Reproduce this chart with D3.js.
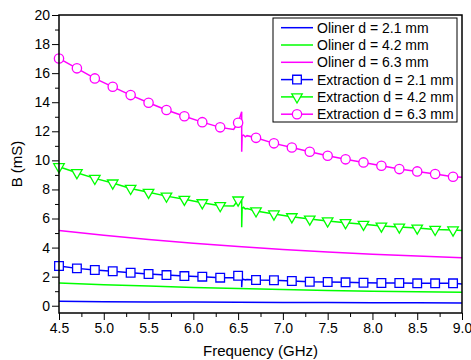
<!DOCTYPE html>
<html>
<head>
<meta charset="utf-8">
<script src="https://cdn.jsdelivr.net/npm/d3@7"></script>
<style>
  body { margin: 0; background: #fff; }
  svg { display: block; font-family: "Liberation Sans", Arial, sans-serif; }
  .tick text { font-size: 14px; fill: #000; }
  .tick line { stroke: #000; stroke-width: 1; }
</style>
</head>
<body>
<svg id="chart" width="471" height="360"></svg>
<script>
// Oliner (model) curves, smooth
const olinerFreq = [4.5, 5.0, 5.5, 6.0, 6.5, 7.0, 7.5, 8.0, 8.5, 9.0];
const oliner21 = [0.30, 0.28, 0.26, 0.25, 0.24, 0.23, 0.22, 0.21, 0.20, 0.19];
const oliner42 = [1.56, 1.45, 1.35, 1.26, 1.18, 1.11, 1.05, 1.00, 0.96, 0.93];
const oliner63 = [5.18, 4.85, 4.56, 4.30, 4.07, 3.87, 3.70, 3.55, 3.42, 3.30];

// Extraction curves (line points incl. the glitch near 6.54 GHz)
const extFreq = [4.5, 4.7, 4.9, 5.1, 5.3, 5.5, 5.7, 5.9, 6.1, 6.3, 6.45, 6.5,
  6.54, 6.54, 6.545, 6.56, 6.58, 6.6, 6.7, 6.9, 7.1, 7.3, 7.5, 7.7, 7.9, 8.1,
  8.3, 8.5, 8.7, 8.9, 9.0];
const ext21 = [2.73, 2.57, 2.46, 2.37, 2.27, 2.18, 2.11, 2.04, 2.00, 1.93, 1.92, 2.06,
  2.00, 1.27, 1.80, 1.82, 1.78, 1.80, 1.77, 1.75, 1.70, 1.65, 1.63, 1.61, 1.58, 1.56,
  1.56, 1.54, 1.54, 1.54, 1.50];
const ext42 = [9.56, 9.15, 8.76, 8.44, 8.07, 7.80, 7.54, 7.32, 7.08, 6.88, 6.86, 7.27,
  7.35, 5.40, 6.70, 6.77, 6.66, 6.68, 6.52, 6.31, 6.12, 5.96, 5.83, 5.71, 5.60, 5.48,
  5.41, 5.34, 5.25, 5.21, 5.18];
const ext63 = [17.01, 16.33, 15.64, 15.06, 14.49, 13.96, 13.46, 13.03, 12.63, 12.27, 12.13, 12.59,
  13.34, 10.59, 11.70, 11.74, 11.62, 11.70, 11.55, 11.17, 10.89, 10.59, 10.32, 10.07, 9.86, 9.63,
  9.40, 9.24, 9.06, 8.87, 8.84];
// frequencies that carry a marker
const markerFreq = [4.5, 4.7, 4.9, 5.1, 5.3, 5.5, 5.7, 5.9, 6.1, 6.3, 6.5, 6.7, 6.9,
  7.1, 7.3, 7.5, 7.7, 7.9, 8.1, 8.3, 8.5, 8.7, 8.9];

const xTicks = [4.5, 5.0, 5.5, 6.0, 6.5, 7.0, 7.5, 8.0, 8.5, 9.0];
const yTicks = [0, 2, 4, 6, 8, 10, 12, 14, 16, 18, 20];

const series = [
  {label: "Oliner d = 2.1 mm", color: "#0000ff", freq: olinerFreq, vals: oliner21, marker: null},
  {label: "Oliner d = 4.2 mm", color: "#00ff00", freq: olinerFreq, vals: oliner42, marker: null},
  {label: "Oliner d = 6.3 mm", color: "#ff00ff", freq: olinerFreq, vals: oliner63, marker: null},
  {label: "Extraction d = 2.1 mm", color: "#0000ff", freq: extFreq, vals: ext21, marker: "square"},
  {label: "Extraction d = 4.2 mm", color: "#00ff00", freq: extFreq, vals: ext42, marker: "triangle"},
  {label: "Extraction d = 6.3 mm", color: "#ff00ff", freq: extFreq, vals: ext63, marker: "circle"}
];

let svg = d3.select("#chart"),
  margin = {top: 15, right: 9, bottom: 47, left: 59},
  width = +svg.attr("width") - margin.left - margin.right,
  height = +svg.attr("height") - margin.top - margin.bottom,
  g = svg.append("g").attr("transform", "translate(" + margin.left + "," + margin.top + ")");

let x = d3.scaleLinear().domain([4.5, 9.0]).range([0, width]);
let y = d3.scaleLinear().domain([-0.5, 20]).range([height, 0]);

// minor ticks
let xMinor = d3.range(4.75, 9.0, 0.5);
let yMinor = d3.range(1, 20, 2);

g.append("g").attr("transform", "translate(0," + height + ")")
  .call(d3.axisBottom(x).tickValues(xMinor).tickSize(4).tickFormat(""))
  .call(a => a.select(".domain").remove());
g.append("g").attr("transform", "translate(0," + height + ")")
  .call(d3.axisBottom(x).tickValues(xTicks).tickSize(7).tickPadding(3).tickFormat(d3.format(".1f")))
  .call(a => a.select(".domain").remove());

g.append("g")
  .call(d3.axisLeft(y).tickValues(yMinor).tickSize(4).tickFormat(""))
  .call(a => a.select(".domain").remove());
g.append("g")
  .call(d3.axisLeft(y).tickValues(yTicks).tickSize(7).tickPadding(2))
  .call(a => a.select(".domain").remove());

let line = d3.line().x(d => x(d[0])).y(d => y(d[1]));

let symbols = {
  square: d3.symbol().type(d3.symbolSquare).size(75),
  circle: d3.symbol().type(d3.symbolCircle).size(68),
  triangle: d3.symbol().type(d3.symbolTriangle).size(48)
};

function drawMarker(sel, type, color) {
  sel.append("path")
    .attr("d", symbols[type]())
    .attr("transform", type === "triangle" ? "rotate(180)" : null)
    .attr("fill", "#fff")
    .attr("stroke", color)
    .attr("stroke-width", 1.3);
}

let plot = g.append("g");
series.forEach(function(s) {
  let pts = s.freq.map((f, i) => [f, s.vals[i]]);
  plot.append("path")
    .datum(pts)
    .attr("fill", "none")
    .attr("stroke", s.color)
    .attr("stroke-width", 1.5)
    .attr("d", line);
  if (s.marker) {
    pts.filter(p => markerFreq.indexOf(p[0]) >= 0).forEach(function(p) {
      let m = plot.append("g").attr("transform", "translate(" + x(p[0]) + "," + y(p[1]) + ")");
      drawMarker(m, s.marker, s.color);
    });
  }
});

// frame
g.append("rect")
  .attr("width", width).attr("height", height)
  .attr("fill", "none").attr("stroke", "#000").attr("stroke-width", 1.5);

// axis titles
svg.append("text")
  .attr("x", margin.left + width / 2).attr("y", 356)
  .attr("text-anchor", "middle").attr("font-size", 15)
  .text("Frequency (GHz)");
svg.append("text")
  .attr("transform", "translate(22," + (margin.top + height / 2) + ") rotate(-90)")
  .attr("text-anchor", "middle").attr("font-size", 15)
  .text("B (mS)");

// legend
let legend = svg.append("g").attr("transform", "translate(273,18)");
legend.append("rect")
  .attr("width", 184).attr("height", 104)
  .attr("fill", "#fff").attr("stroke", "#000").attr("stroke-width", 1);
series.forEach(function(s, i) {
  let row = legend.append("g").attr("transform", "translate(0," + (9.7 + i * 17.3) + ")");
  row.append("line").attr("x1", 8).attr("x2", 40)
    .attr("stroke", s.color).attr("stroke-width", 1.5);
  if (s.marker) {
    let m = row.append("g").attr("transform", "translate(24,0)");
    drawMarker(m, s.marker, s.color);
  }
  row.append("text").attr("x", 44).attr("dy", "0.35em")
    .attr("font-size", 14).text(s.label);
});
</script>
</body>
</html>
